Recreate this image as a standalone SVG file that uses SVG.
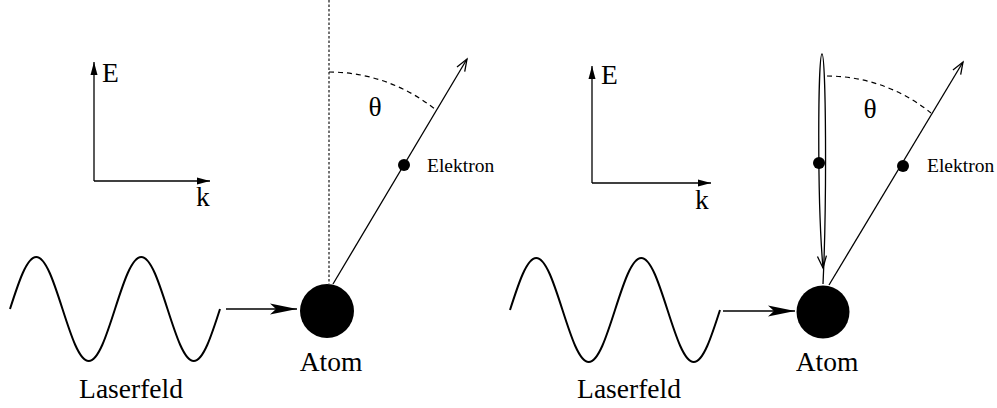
<svg xmlns="http://www.w3.org/2000/svg" width="997" height="408" viewBox="0 0 997 408">
<style>
.ln{fill:none;stroke:#000;stroke-width:1.3}
.wave{fill:none;stroke:#000;stroke-width:2}
.dot{fill:none;stroke:#000;stroke-width:1.1;stroke-dasharray:2.5 2}
.dash{fill:none;stroke:#000;stroke-width:1.2;stroke-dasharray:5 4}
.big{font-family:"Liberation Serif","Times New Roman",serif;font-size:27.5px;fill:#000}
.sm{font-family:"Liberation Serif","Times New Roman",serif;font-size:19.5px;fill:#000}
</style>
<defs>
<marker id="open" markerUnits="userSpaceOnUse" markerWidth="30" markerHeight="30" refX="15" refY="15" orient="auto" viewBox="0 0 30 30" overflow="visible">
<path d="M3,10.5 L15,15 L3,19.5" fill="none" stroke="#000" stroke-width="1.3"/>
</marker>
<marker id="fill" markerUnits="userSpaceOnUse" markerWidth="30" markerHeight="30" refX="15" refY="15" orient="auto" viewBox="0 0 30 30" overflow="visible">
<path d="M15,15 L2,11.5 L2,18.5 Z" fill="#000"/>
</marker>
<marker id="notch" markerUnits="userSpaceOnUse" markerWidth="40" markerHeight="30" refX="30" refY="15" orient="auto" viewBox="0 0 40 30" overflow="visible">
<path d="M30,15 L3,9.5 L9,15 L3,20.5 Z" fill="#000"/>
</marker>
</defs>

<g id="connectors">
<!-- left panel -->
<line class="dot" x1="329" y1="0" x2="329" y2="284"/>
<path class="dash" d="M329 72 A170 170 0 0 1 436 110"/>
<line class="ln" x1="333" y1="284" x2="467" y2="59" marker-end="url(#open)"/>
<line class="ln" x1="94" y1="181" x2="94" y2="62" marker-end="url(#fill)"/>
<line class="ln" x1="94" y1="181" x2="210" y2="181" marker-end="url(#fill)"/>
<line class="ln" x1="226" y1="309" x2="297" y2="309" marker-end="url(#notch)"/>
<!-- right panel -->
<path class="dash" d="M827 76 A165 165 0 0 1 931 113"/>
<line class="ln" x1="829" y1="285" x2="963" y2="62" marker-end="url(#open)"/>
<path class="ln" d="M823 284 C827 200 826 54 822 54 C818 54 817 200 823 268" marker-end="url(#open)"/>
<line class="ln" x1="592" y1="183" x2="592" y2="66" marker-end="url(#fill)"/>
<line class="ln" x1="592" y1="183" x2="711" y2="183" marker-end="url(#fill)"/>
<line class="ln" x1="723" y1="311" x2="795" y2="311" marker-end="url(#notch)"/>
</g>

<g id="laser-left">
<path class="wave" d="M10 309 c8.56,-26.64 16.75,-52 26.25,-52 c9.5,0 17.69,25.36 26.25,52 c8.56,26.64 16.75,52 26.25,52 c9.5,0 17.69,-25.36 26.25,-52 c8.56,-26.64 16.75,-52 26.25,-52 c9.5,0 17.69,25.36 26.25,52 c8.56,26.64 16.75,52 26.25,52 c9.5,0 17.69,-25.36 26.25,-52"/>
<text class="big" x="131" y="398" text-anchor="middle">Laserfeld</text>
</g>
<g id="atom-left">
<circle cx="327" cy="311" r="27" fill="#000"/>
<text class="big" x="331" y="371" text-anchor="middle">Atom</text>
</g>
<g id="electron-left">
<circle cx="404" cy="165" r="6" fill="#000"/>
<text class="sm" x="427" y="172">Elektron</text>
</g>
<g id="axes-left">
<text class="big" x="102" y="82">E</text>
<text class="big" x="196" y="206">k</text>
</g>
<g id="theta-left">
<text class="big" x="375" y="116" text-anchor="middle">θ</text>
</g>

<g id="laser-right">
<path class="wave" d="M510 310 c8.56,-26.64 16.75,-52 26.25,-52 c9.5,0 17.69,25.36 26.25,52 c8.56,26.64 16.75,52 26.25,52 c9.5,0 17.69,-25.36 26.25,-52 c8.56,-26.64 16.75,-52 26.25,-52 c9.5,0 17.69,25.36 26.25,52 c8.56,26.64 16.75,52 26.25,52 c9.5,0 17.69,-25.36 26.25,-52"/>
<text class="big" x="629" y="398" text-anchor="middle">Laserfeld</text>
</g>
<g id="atom-right">
<circle cx="823" cy="312" r="26.5" fill="#000"/>
<text class="big" x="827" y="371" text-anchor="middle">Atom</text>
</g>
<g id="electron-right">
<circle cx="903" cy="166" r="6" fill="#000"/>
<circle cx="819" cy="163" r="6" fill="#000"/>
<text class="sm" x="927" y="172">Elektron</text>
</g>
<g id="axes-right">
<text class="big" x="601" y="84">E</text>
<text class="big" x="695" y="209">k</text>
</g>
<g id="theta-right">
<text class="big" x="870" y="118" text-anchor="middle">θ</text>
</g>
</svg>
